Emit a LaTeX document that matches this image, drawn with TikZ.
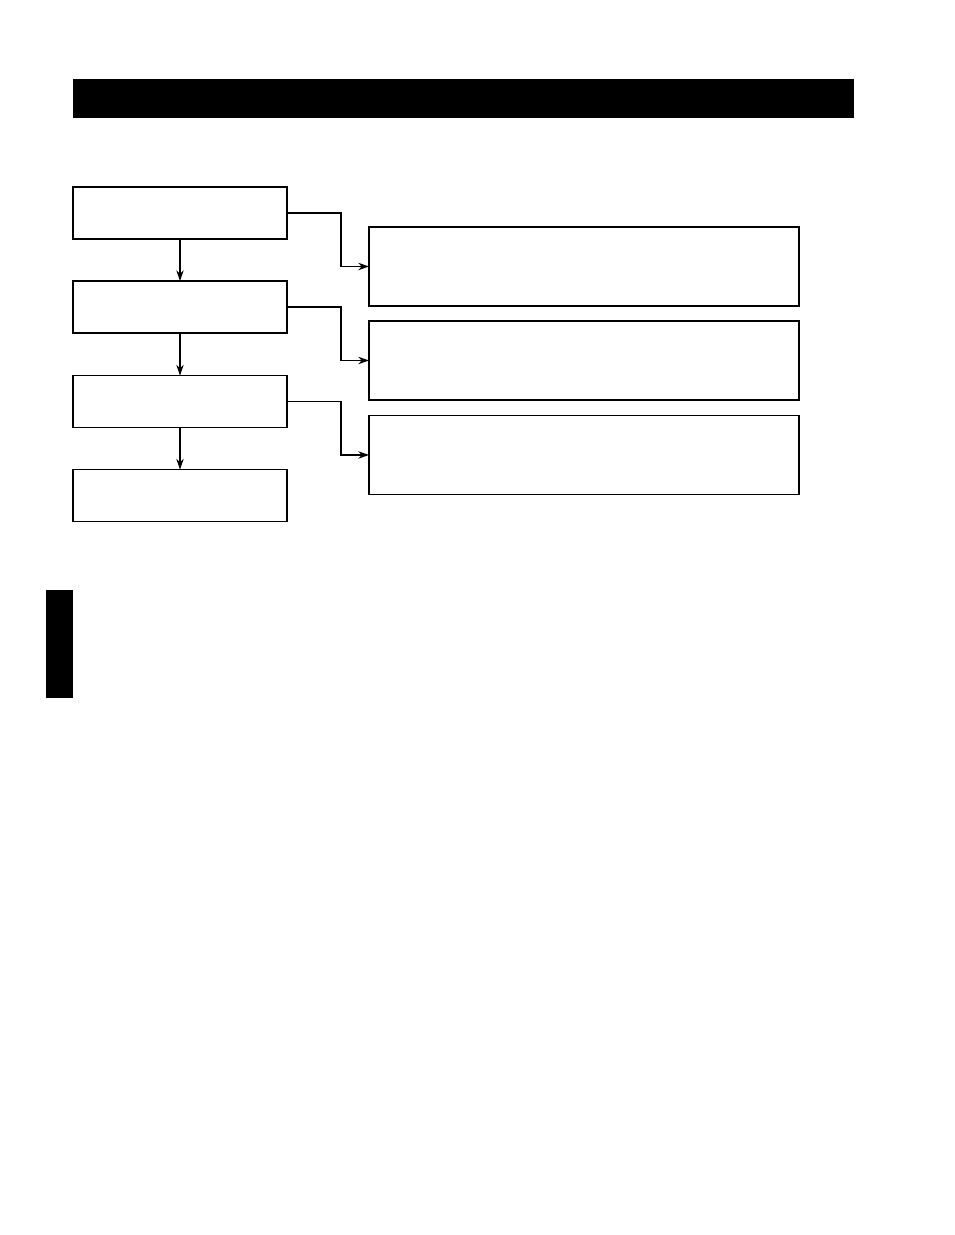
\documentclass[tikz,border=0pt]{standalone}
\usetikzlibrary{arrows.meta}
\begin{document}
\begin{tikzpicture}[x=0.75pt,y=-0.75pt,
  lbox/.style={draw=black,line width=1.1pt,minimum width=160.5pt,minimum height=39pt,inner sep=0pt,outer sep=0pt},
  rbox/.style={draw=black,line width=1.2pt,minimum width=322.5pt,minimum height=59.25pt,inner sep=0pt,outer sep=0pt},
  blk/.style={fill=black,draw=none,inner sep=0pt,outer sep=0pt},
  conn/.style={line width=1pt,-{Stealth[length=8pt,width=5.5pt,inset=2.5pt]}},
  vconn/.style={line width=0.8pt,-{Stealth[length=8pt,width=5.5pt,inset=2.5pt]}}]
\useasboundingbox (0,0) rectangle (954,1235);
\node[blk,minimum width=585.75pt,minimum height=29.25pt] (bar) at (463.5,98.5) {};
\node[blk,minimum width=20.25pt,minimum height=81pt] (tab) at (59.5,644) {};
\node[lbox] (b1) at (180,213) {};
\node[lbox] (b2) at (180,307) {};
\node[lbox] (b3) at (180,401.5) {};
\node[lbox] (b4) at (180,495.5) {};
\node[rbox] (ra) at (584,266.5) {};
\node[rbox] (rb) at (584,360.5) {};
\node[rbox] (rc) at (584,455) {};
\draw[vconn] (b1.south) -- (b2.north);
\draw[vconn] (b2.south) -- (b3.north);
\draw[vconn] (b3.south) -- (b4.north);
\draw[conn,line width=1.4pt] (b1.east) -- ++(54,0) |- (ra.west);
\draw[conn] (b2.east) -- ++(54,0) |- (rb.west);
\draw[conn] (b3.east) -- ++(54,0) |- (rc.west);
\end{tikzpicture}
\end{document}
